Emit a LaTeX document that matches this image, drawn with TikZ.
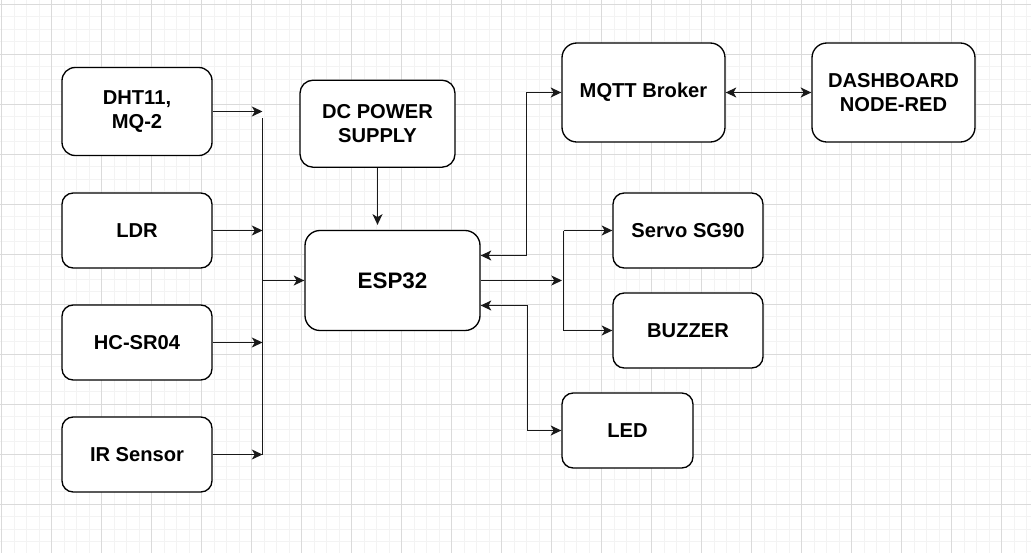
\documentclass[tikz,border=0pt]{standalone}
\usepackage{fontspec}
\setmainfont{Liberation Sans}
\usetikzlibrary{arrows.meta}
\definecolor{gmajor}{RGB}{218,218,218}
\definecolor{gminor}{RGB}{243,243,243}
\tikzset{
  box/.style={draw=black, line width=1pt, fill=white, align=center, inner sep=0pt,
    text=black, font=\bfseries\fontsize{15.1}{18.3}\selectfont},
  smallbox/.style={box, minimum width=112.5pt, minimum height=56.25pt, rounded corners=8.4pt},
  bigbox/.style={box, minimum width=122.25pt, minimum height=74.25pt, rounded corners=11.1pt},
  ln/.style={draw=black!90, line width=0.9pt},
  tipa/.tip={Stealth[length=8pt,width=7.5pt,inset=2.2pt]},
  arr/.style={ln, -tipa},
  darr/.style={ln, tipa-tipa},
  gminorline/.style={draw=gminor, line width=0.75pt},
  gmajorline/.style={draw=gmajor, line width=0.75pt}
}
\begin{document}
\begin{tikzpicture}[x=0.75pt,y=-0.75pt]
\useasboundingbox (0,0) rectangle (1031,553);
\fill[white] (0,0) rectangle (1031,553);
% grid
\foreach \i in {0,...,82}{\draw[gminorline] (1.7+12.5*\i,0) -- (1.7+12.5*\i,553);}
\foreach \j in {0,...,43}{\draw[gminorline] (0,4.3+12.5*\j) -- (1031,4.3+12.5*\j);}
\foreach \i in {0,...,20}{\draw[gmajorline] (1.7+50*\i,0) -- (1.7+50*\i,553);}
\foreach \j in {0,...,10}{\draw[gmajorline] (0,4.3+50*\j) -- (1031,4.3+50*\j);}

% nodes
\node[smallbox, minimum height=66pt, rounded corners=9.9pt] (dht) at (137,111.5) {DHT11,\\MQ-2};
\node[smallbox] (ldr) at (137,230.5) {LDR};
\node[smallbox] (hc) at (137,342.5) {HC-SR04};
\node[smallbox] (ir) at (137,454.5) {IR Sensor};
\node[box, minimum width=116.25pt, minimum height=65.25pt, rounded corners=9.8pt] (dc) at (377.5,123.7) {DC POWER\\SUPPLY};
\node[box, minimum width=131.25pt, minimum height=75pt, rounded corners=11.25pt,
      font=\bfseries\fontsize{16.8}{20}\selectfont] (esp) at (392.5,280.5) {ESP32};
\node[bigbox] (mqtt) at (643.5,92.5) {MQTT Broker};
\node[bigbox] (dash) at (893.5,92.5) {DASHBOARD\\NODE-RED};
\node[smallbox] (servo) at (688,230.5) {Servo SG90};
\node[smallbox] (buzz) at (688,330.5) {BUZZER};
\node[smallbox, minimum width=98.25pt] (led) at (627.5,430.5) {LED};

% input bus
\coordinate (bdht) at (262.5,111.5);
\coordinate (bustop) at (262.5,118);
\coordinate (busbot) at (262.5,455);
\coordinate (busmid) at (262.5,280.5);
\draw[ln] (bustop) -- (busbot);
\draw[arr] (dht.east) -- (bdht);
\draw[arr] (ldr.east) -- (ldr.east -| bustop);
\draw[arr] (hc.east) -- (hc.east -| bustop);
\draw[arr] (ir.east) -- (ir.east -| bustop);
\draw[arr] (busmid) -- (esp.west);

% power
\draw[arr, shorten >=3.75pt] (dc.south) -- (dc.south |- esp.north);

% ESP <-> MQTT
\draw[darr] ([yshift=18.75pt]esp.east) -- ++(45.5,0) |- (mqtt.west);
% MQTT <-> Dashboard
\draw[darr] (mqtt.east) -- (dash.west);

% ESP -> actuators
\coordinate (b2) at (563.5,280.5);
\coordinate (b2tip) at (562,280.5);
\draw[arr] (esp.east) -- (b2tip);
\draw[ln] (servo.west -| b2) -- (buzz.west -| b2);
\draw[arr] (servo.west -| b2) -- (servo.west);
\draw[arr] (buzz.west -| b2) -- (buzz.west);

% ESP <-> LED
\draw[darr] ([yshift=-18.75pt]esp.east) -- ++(46.5,0) |- (led.west);
\end{tikzpicture}
\end{document}
